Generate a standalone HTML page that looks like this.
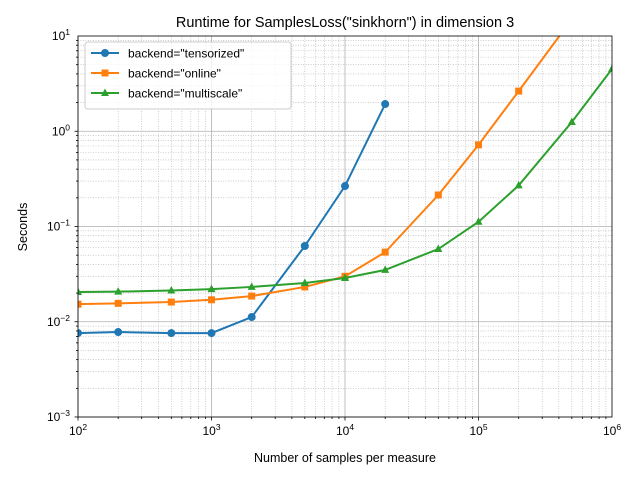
<!DOCTYPE html>
<html><head><meta charset="utf-8"><style>
body{margin:0;background:#fff}
svg text{font-family:"Liberation Sans","DejaVu Sans",sans-serif;fill:#000}
</style></head><body>
<svg id="chart" width="640" height="480" xmlns="http://www.w3.org/2000/svg">
<defs><clipPath id="clip"><rect x="78" y="36" width="534" height="381"/></clipPath></defs>
<g id="grid"></g>
<g id="series" clip-path="url(#clip)"></g>
<rect x="78" y="36" width="534" height="381" fill="none" stroke="#000" stroke-width="0.8"/>
<g id="axes"></g>
<text x="345" y="27" font-size="14.5" text-anchor="middle">Runtime for SamplesLoss("sinkhorn") in dimension 3</text>
<text x="345" y="462" font-size="12.5" text-anchor="middle">Number of samples per measure</text>
<text x="27" y="227" font-size="12.5" text-anchor="middle" transform="rotate(-90 27 227)">Seconds</text>
<g id="legend"></g>
</svg>
<script>
const xTensorized=[100,200,500,1000,2000,5000,10000,20000];
const yTensorized=[0.0076,0.0078,0.0076,0.0076,0.0112,0.0624,0.266,1.93];
const xOnline=[100,200,500,1000,2000,5000,10000,20000,50000,100000,200000,500000];
const yOnline=[0.0153,0.0156,0.0161,0.0170,0.0186,0.0232,0.0300,0.0538,0.214,0.72,2.64,15];
const xMultiscale=[100,200,500,1000,2000,5000,10000,20000,50000,100000,200000,500000,1000000];
const yMultiscale=[0.0205,0.0207,0.0213,0.0220,0.0232,0.0255,0.0288,0.0350,0.058,0.112,0.27,1.25,4.5];
const xTickExps=[2,3,4,5,6];
const yTickExps=[-3,-2,-1,0,1];
const seriesNames=['backend="tensorized"','backend="online"','backend="multiscale"'];

const NS="http://www.w3.org/2000/svg";
const X0=78,X1=612,Y0=417,Y1=36;
const sx=v=>X0+(Math.log10(v)-2)/4*(X1-X0);
const sy=v=>Y0-(Math.log10(v)+3)/4*(Y0-Y1);
function mk(tag,attrs,parent){const e=document.createElementNS(NS,tag);for(const k in attrs)e.setAttribute(k,attrs[k]);parent.appendChild(e);return e;}
const grid=document.getElementById('grid'),axes=document.getElementById('axes');
for(let e=2;e<6;e++)for(let m=1;m<10;m++){const x=sx(m*Math.pow(10,e));
 const l=mk('line',{x1:x,x2:x,y1:Y1,y2:Y0,stroke:'#b0b0b0','stroke-width':m==1?0.8:0.6,'stroke-dasharray':m==1?'':'1,1.5'},grid);
 
 
 const t=mk('line',{x1:x,x2:x,y1:Y0,y2:Y0+(m==1?3.5:2),stroke:'#000','stroke-width':0.8},axes);
 
 }
for(let e=-3;e<1;e++)for(let m=1;m<10;m++){const y=sy(m*Math.pow(10,e));
 const l=mk('line',{x1:X0,x2:X1,y1:y,y2:y,stroke:'#b0b0b0','stroke-width':m==1?0.8:0.6,'stroke-dasharray':m==1?'':'1,1.5'},grid);
 
 
 const t=mk('line',{x1:X0,x2:X0-(m==1?3.5:2),y1:y,y2:y,stroke:'#000','stroke-width':0.8},axes);
 
 }
xTickExps.forEach(e=>{const t=mk('text',{x:sx(Math.pow(10,e)),y:435,'font-size':12,'text-anchor':'middle'},axes);
 t.innerHTML='10<tspan dy="-5" font-size="8.5">'+e+'</tspan>';
 
 });
yTickExps.forEach(e=>{const t=mk('text',{x:70,y:sy(Math.pow(10,e))+4,'font-size':12,'text-anchor':'end'},axes);
 t.innerHTML='10<tspan dy="-5" font-size="8.5">'+(e<0?'\u2212'+(-e):e)+'</tspan>';
 
 });
const sg=document.getElementById('series');
const colors=['#1f77b4','#ff7f0e','#2ca02c'];
function marker(kind,x,y,c,p,name){let e;
 if(kind==0)e=mk('circle',{cx:x,cy:y,r:4,fill:c},p);
 else if(kind==1)e=mk('rect',{x:x-3.5,y:y-3.5,width:7,height:7,fill:c},p);
 else e=mk('polygon',{points:`${x},${y-4.5} ${x-4},${y+3} ${x+4},${y+3}`,fill:c},p);
 
 }
[[xTensorized,yTensorized],[xOnline,yOnline],[xMultiscale,yMultiscale]].forEach((s,i)=>{
 const pl=mk('polyline',{points:s[0].map((x,j)=>sx(x)+','+sy(s[1][j])).join(' '),fill:'none',stroke:colors[i],'stroke-width':2},sg);
 
 
 s[0].forEach((x,j)=>marker(i,sx(x),sy(s[1][j]),colors[i],sg,'point-'+['tensorized','online','multiscale'][i]));});
const lg=document.getElementById('legend');
const box=mk('rect',{x:85,y:42,width:206,height:67,rx:3,fill:'#fff','fill-opacity':0.8,stroke:'#ccc'},lg);


seriesNames.forEach((n,i)=>{const y=53+i*20;
 const l=mk('line',{x1:91,x2:119,y1:y,y2:y,stroke:colors[i],'stroke-width':2},lg);
 
 
 marker(i,105,y,colors[i],lg,'legend-marker');
 const t=mk('text',{x:128,y:y+4.5,'font-size':12},lg);t.textContent=n;
 
 });
</script>
</body></html>
